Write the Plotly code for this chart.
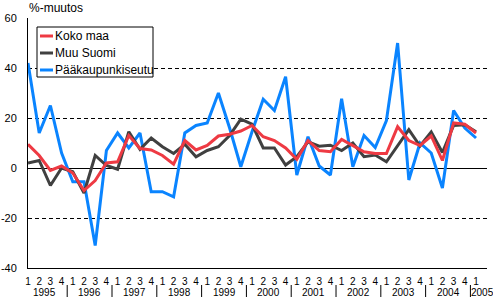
import plotly.graph_objects as go

# ---- data ----
quarters = ["1", "2", "3", "4"] * 10 + ["1"]
years = ["1995", "1996", "1997", "1998", "1999", "2000", "2001", "2002", "2003", "2004", "2005"]

koko_maa = [9.5, 5, -1, 0.8, -2, -9, -5, 2, 2.5, 13,
            7.8, 7.2, 5, 1.5, 11, 7.2, 9, 12.8, 13.5, 14.8,
            17, 12.5, 11, 8, 3.5, 11, 7, 6.5, 11.4, 9,
            6.5, 5.8, 5.8, 16.5, 11, 9, 12.8, 3, 18, 17.5,
            14]
muu_suomi = [2, 3, -7, 0, -1.5, -10, 5, 1, -0.5, 14.5,
             7.5, 12, 8.5, 5.8, 9.5, 4.5, 7, 8.5, 13, 19.5,
             17.5, 8, 8, 1.2, 4.5, 10.5, 8.7, 9.1, 7, 10,
             4.5, 5.2, 2.5, 8.7, 15.3, 8.8, 14.4, 6.2, 17, 17.3,
             14.5]
paakaupunkiseutu = [42, 14, 25, 6, -5.5, -5.5, -31, 7, 14, 8,
                    14, -9.5, -9.5, -11.5, 14, 17, 18, 30, 16, 0.5,
                    14.5, 27.5, 23, 36.5, -2.8, 12.5, 0.8, -2.8, 27.7, 0.5,
                    13, 8.2, 19, 50, -4.8, 10, 6, -8, 23, 16,
                    12]

series_names = ["Koko maa", "Muu Suomi", "Pääkaupunkiseutu"]
y_ticks = [-40, -20, 0, 20, 40, 60]
y_ticktext = ["-40", "-20", "0", "20", "40", "60"]

# ---- style ----
FONT = "Liberation Sans, Arial, sans-serif"
RED = "#EE3A43"
GRAY = "#404040"
BLUE = "#0A84FF"

WIDTH, HEIGHT = 493, 298
ML, MR, MT, MB = 28, 6, 18, 30
PW = WIDTH - ML - MR
PH = HEIGHT - MT - MB


def px(xpix):
    return (xpix - ML) / PW


def py(ypix):
    return (HEIGHT - MB - ypix) / PH


x = list(range(len(koko_maa)))

fig = go.Figure()
for name, vals, color in [(series_names[2], paakaupunkiseutu, BLUE),
                          (series_names[1], muu_suomi, GRAY),
                          (series_names[0], koko_maa, RED)]:
    fig.add_trace(go.Scatter(x=x, y=vals, mode="lines", name=name,
                             line=dict(color=color, width=3),
                             showlegend=False, hoverinfo="x+y+name"))

shapes = []
annotations = []

# year separators and year labels
for k, yr in enumerate(years):
    last = k == len(years) - 1
    annotations.append(dict(x=(4 * k - 0.5) if last else (4 * k + 1.5), y=py(292.5),
                            xref="x", yref="paper", text=yr, showarrow=False,
                            xanchor="left" if last else "center", yanchor="middle",
                            xshift=-1 if last else 0,
                            font=dict(size=10, family=FONT, color="black")))
    if k > 0:
        sx = 4 * k - 0.5
        shapes.append(dict(type="line", xref="x", yref="paper", x0=sx, x1=sx,
                           y0=py(285), y1=py(297), line=dict(color="black", width=1)))

# manual legend
shapes.append(dict(type="rect", xref="paper", yref="paper", x0=px(37), x1=px(153),
                   y0=py(77), y1=py(27), line=dict(color="black", width=1), fillcolor="white",
                   layer="above"))
for name, color, yy in [(series_names[0], RED, 36), (series_names[1], GRAY, 53),
                        (series_names[2], BLUE, 70)]:
    shapes.append(dict(type="line", xref="paper", yref="paper", x0=px(40), x1=px(53),
                       y0=py(yy), y1=py(yy), line=dict(color=color, width=3)))
    annotations.append(dict(x=px(53), y=py(yy), xref="paper", yref="paper", text=name,
                            showarrow=False, xanchor="left", yanchor="middle",
                            font=dict(size=12, family=FONT, color="black")))

# axis title
annotations.append(dict(x=px(27), y=py(8), xref="paper", yref="paper", text="%-muutos",
                        showarrow=False, xanchor="left", yanchor="middle",
                        font=dict(size=12, family=FONT, color="black")))

fig.update_layout(
    width=WIDTH, height=HEIGHT,
    margin=dict(l=ML, r=MR, t=MT, b=MB),
    paper_bgcolor="white", plot_bgcolor="white",
    font=dict(family=FONT, size=11, color="black"),
    shapes=shapes, annotations=annotations,
    showlegend=False,
)
fig.update_xaxes(range=[0, 40.98], tickmode="array", tickvals=x, ticktext=quarters,
                 showgrid=False, zeroline=False, showline=True, linecolor="black",
                 linewidth=1, ticks="", tickfont=dict(size=10, family=FONT),
                 ticklabelstandoff=4, tickangle=0, automargin=False)
fig.update_yaxes(range=[-40, 60], tickmode="array", tickvals=y_ticks, ticktext=y_ticktext,
                 showgrid=True, gridcolor="black", gridwidth=1, griddash="4px,3px",
                 zeroline=True, zerolinecolor="black", zerolinewidth=1,
                 showline=True, linecolor="black", linewidth=1, ticks="",
                 tickfont=dict(size=11, family=FONT), ticklabelstandoff=8,
                 automargin=False)

fig.write_html("out.html")
